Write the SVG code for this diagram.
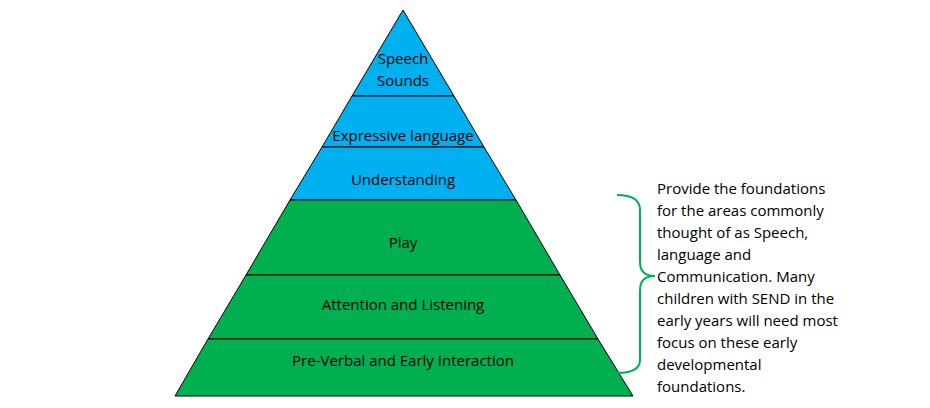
<svg xmlns="http://www.w3.org/2000/svg" width="930" height="408" viewBox="0 0 930 408">
<style>
.b{fill:#00B0F0;stroke:#000;stroke-width:1}
.g{fill:#00B050;stroke:#000;stroke-width:1}
text{font-family:"Open Sans","Liberation Sans",sans-serif;font-size:15px;fill:#000}
.c{text-anchor:middle}
</style>
<rect width="930" height="408" fill="#fff"/>
<g id="speech"><polygon class="b" points="403,10 454,96 352,96"/><text class="c" x="403" y="64">Speech</text><text class="c" x="403" y="86">Sounds</text></g>
<g id="expressive"><polygon class="b" points="352,96 454,96 484,147 322,147"/><text class="c" x="403" y="141">Expressive language</text></g>
<g id="understanding"><polygon class="b" points="322,147 484,147 516,200 290,200"/><text class="c" x="403" y="185">Understanding</text></g>
<g id="play"><polygon class="g" points="290,200 516,200 560,275 246,275"/><text class="c" x="403" y="248">Play</text></g>
<g id="attention"><polygon class="g" points="246,275 560,275 598,339 208,339"/><text class="c" x="403" y="310">Attention and Listening</text></g>
<g id="preverbal"><polygon class="g" points="208,339 598,339 633,396 175,396"/><text class="c" x="403" y="366">Pre-Verbal and Early Interaction</text></g>
<g id="connectors"><path d="M617,195 Q640,195 640,210 L640,262 Q640,276 655,276 Q640,276 640,290 L640,360 Q640,373 617,373" fill="none" stroke="#00B050" stroke-width="2"/></g>
<g id="note">
<text x="657" y="194">Provide the foundations</text>
<text x="657" y="216">for the areas commonly</text>
<text x="657" y="238">thought of as Speech,</text>
<text x="657" y="260">language and</text>
<text x="657" y="282">Communication. Many</text>
<text x="657" y="304">children with SEND in the</text>
<text x="657" y="326">early years will need most</text>
<text x="657" y="348">focus on these early</text>
<text x="657" y="370">developmental</text>
<text x="657" y="392">foundations.</text>
</g>
</svg>
